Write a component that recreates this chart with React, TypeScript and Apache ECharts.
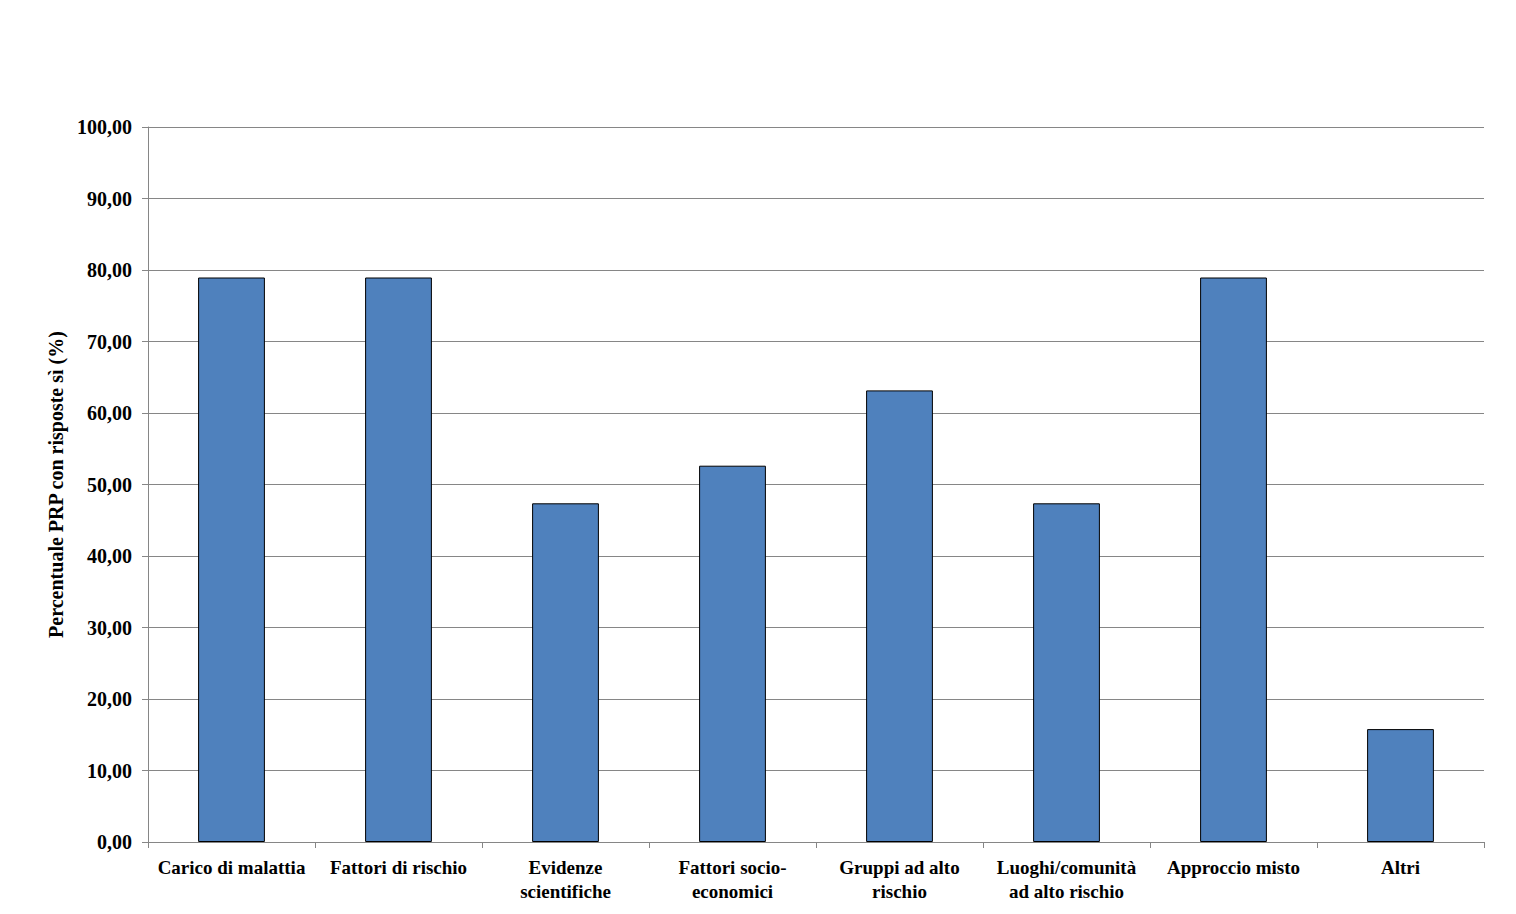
import React, { useEffect, useRef } from "react";
import * as echarts from "echarts";

const categories = [
  "Carico di malattia",
  "Fattori di rischio",
  "Evidenze\nscientifiche",
  "Fattori socio-\neconomici",
  "Gruppi ad alto\nrischio",
  "Luoghi/comunità\nad alto rischio",
  "Approccio misto",
  "Altri",
];
const values = [78.95, 78.95, 47.37, 52.63, 63.16, 47.37, 78.95, 15.79];
const yAxisName = "Percentuale PRP con risposte sì (%)";

export default function App() {
  const ref = useRef<HTMLDivElement>(null);
  useEffect(() => {
    const chart = echarts.init(ref.current!, undefined, { renderer: "svg" });
    const font = "'Liberation Serif', 'Times New Roman', serif";
    chart.setOption({
      animation: false,
      backgroundColor: "#ffffff",
      grid: { left: 148, right: 32, top: 127, bottom: 72, containLabel: false },
      xAxis: {
        type: "category",
        data: categories,
        axisLine: { lineStyle: { color: "#868686", width: 1 } },
        axisTick: { show: true, length: 6, lineStyle: { color: "#868686" }, alignWithLabel: false },
        axisLabel: {
          color: "#000",
          fontFamily: font,
          fontWeight: "bold",
          fontSize: 19,
          lineHeight: 24,
          margin: 13,
          interval: 0,
        },
      },
      yAxis: {
        type: "value",
        min: 0,
        max: 100,
        interval: 10,
        name: yAxisName,
        nameLocation: "middle",
        nameGap: 80,
        nameTextStyle: { color: "#000", fontFamily: font, fontWeight: "bold", fontSize: 20 },
        axisLine: { show: true, lineStyle: { color: "#868686", width: 1 } },
        axisTick: { show: true, length: 6, lineStyle: { color: "#868686" } },
        splitLine: { show: true, lineStyle: { color: "#868686", width: 1 } },
        axisLabel: {
          color: "#000",
          fontFamily: font,
          fontWeight: "bold",
          fontSize: 20,
          margin: 16,
          formatter: (v: number) => v.toFixed(2).replace(".", ","),
        },
      },
      series: [
        {
          type: "bar",
          data: values,
          barWidth: "40%",
          itemStyle: { color: "#4F81BD", borderColor: "#000", borderWidth: 1 },
        },
      ],
    });
    return () => chart.dispose();
  }, []);
  return (
    <div
      ref={ref}
      style={{ position: "fixed", left: 0, top: 0, width: 1516, height: 914, background: "#fff" }}
    />
  );
}
